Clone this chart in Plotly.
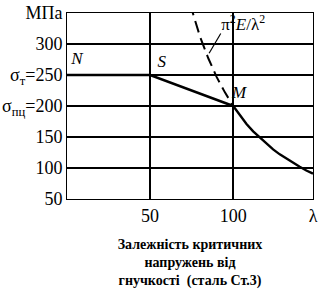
import plotly.graph_objects as go

# --- data ---
lam_main = [0, 50, 100]
sig_main = [250, 250, 200]

lam_euler = [100, 104, 108, 112, 116, 120, 124, 128, 132, 136, 140, 144, 148]
sig_euler = [200, 185, 171, 159, 149, 139, 130, 122, 115, 108, 102, 96, 91]

lam_dash = [74, 76, 80, 85, 90, 95, 100]
sig_dash = [365, 346, 312, 277, 247, 222, 200]

label_lam = [6, 57, 103.5, 106]
label_sig = [274, 269, 219, 329]
label_txt = ["<i>N</i>", "<i>S</i>", "<i>M</i>", "π<sup>2</sup><i>E</i>/λ<sup>2</sup>"]

leader_lam = [92.5, 85.5]
leader_sig = [317, 285]

y_tickvals = [50, 100, 150, 200, 250, 300, 350]
y_ticktext = ["50", "100", "150", "σ<sub>пц</sub>=200", "σ<sub>т</sub>=250", "300", "МПа"]
x_tickvals = [50, 100, 148]
x_ticktext = ["50", "100", "λ"]

caption = "<b>Залежність критичних<br>напружень від<br>гнучкості  (сталь Ст.3)</b>"

W, H = 328, 294
ML, MR, MT, MB = 67, 15, 13, 95
serif = "Liberation Serif"

fig = go.Figure()
fig.add_trace(go.Scatter(x=lam_main, y=sig_main, mode="lines",
                         line=dict(color="black", width=2.6)))
fig.add_trace(go.Scatter(x=lam_euler, y=sig_euler, mode="lines",
                         line=dict(color="black", width=2.4)))
fig.add_trace(go.Scatter(x=lam_dash, y=sig_dash, mode="lines",
                         line=dict(color="black", width=2, dash="12px,6px")))
fig.add_trace(go.Scatter(x=leader_lam, y=leader_sig, mode="lines",
                         line=dict(color="black", width=1.2)))
fig.add_trace(go.Scatter(x=label_lam, y=label_sig, mode="text", text=label_txt,
                         textposition="middle center",
                         textfont=dict(family=serif, size=17, color="black")))

fig.update_layout(
    width=W, height=H, margin=dict(l=ML, r=MR, t=MT, b=MB),
    plot_bgcolor="white", paper_bgcolor="white", showlegend=False,
    font=dict(family=serif, size=18, color="black"),
    xaxis=dict(range=[0, 148], tickvals=x_tickvals, ticktext=x_ticktext,
               showgrid=True, gridcolor="black", gridwidth=1.5,
               showline=True, linecolor="black", mirror=True,
               ticks="", zeroline=False, automargin=False,
               title=dict(text=caption, font=dict(size=14, family=serif), standoff=14)),
    yaxis=dict(range=[50, 350], tickvals=y_tickvals, ticktext=y_ticktext,
               showgrid=True, gridcolor="black", gridwidth=1.5,
               showline=True, linecolor="black", mirror=True,
               ticks="", zeroline=False, automargin=False),
)

fig.write_html("out.html")
